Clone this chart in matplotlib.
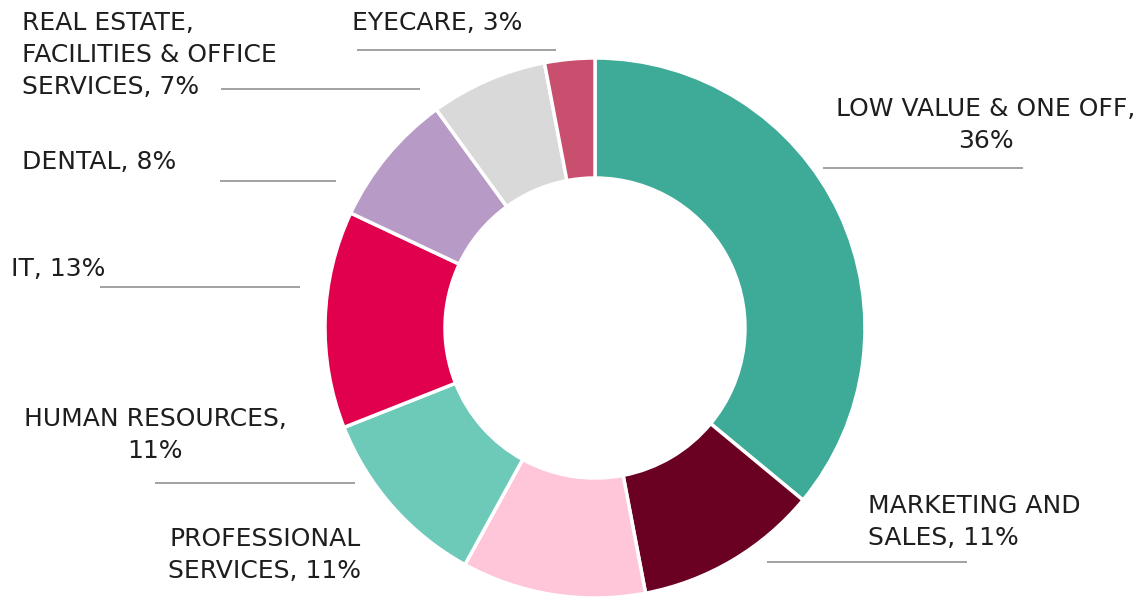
import matplotlib.pyplot as plt

# slice order: clockwise from 12 o'clock
labels = ["LOW VALUE & ONE OFF", "MARKETING AND SALES", "PROFESSIONAL SERVICES",
          "HUMAN RESOURCES", "IT", "DENTAL",
          "REAL ESTATE, FACILITIES & OFFICE SERVICES", "EYECARE"]
shares = [36, 11, 11, 11, 13, 8, 7, 3]
colors = ["#3EAB98", "#6A0022", "#FFC6D9", "#6DCAB9",
          "#E0004D", "#B89AC6", "#D9D9D9", "#C94F6F"]

W, H = 1146, 598
fig = plt.figure(figsize=(W / 100, H / 100), dpi=100)
ax = fig.add_axes([0, 0, 1, 1])

ax.pie(shares, colors=colors, startangle=90, counterclock=False,
       center=(595, H - 328), radius=270,
       wedgeprops=dict(width=120, edgecolor="white", linewidth=2.5))
ax.set_xlim(0, W)
ax.set_ylim(0, H)
ax.set_aspect("equal")
ax.axis("off")

# label text: (text, x, y, align) in pixel coords from the top-left
label_text = [
    ("LOW VALUE & ONE OFF,\n36%", 986, 125, "center"),
    ("MARKETING AND\nSALES, 11%", 868, 522, "left"),
    ("PROFESSIONAL\nSERVICES, 11%", 265, 555, "center"),
    ("HUMAN RESOURCES,\n11%", 155, 435, "center"),
    ("IT, 13%", 11, 269, "left"),
    ("DENTAL, 8%", 22, 162, "left"),
    ("REAL ESTATE,\nFACILITIES & OFFICE\nSERVICES, 7%", 22, 55, "left"),
    ("EYECARE, 3%", 352, 23, "left"),
]
for txt, x, y, ha in label_text:
    ax.text(x, H - y, txt, ha=ha, va="center", multialignment=ha,
            fontsize=18, color="#1e1e1e", linespacing=1.42,
            family="DejaVu Sans")

# short horizontal leader lines
leaders = [(823, 1023, 168), (767, 967, 562), (155, 355, 483), (100, 300, 287),
           (220, 336, 181), (221, 420, 89), (357, 556, 50)]
for x0, x1, y in leaders:
    ax.plot([x0, x1], [H - y, H - y], color="#9a9a9a", lw=1.3,
            solid_capstyle="butt")

fig.savefig("out.png", dpi=100)
